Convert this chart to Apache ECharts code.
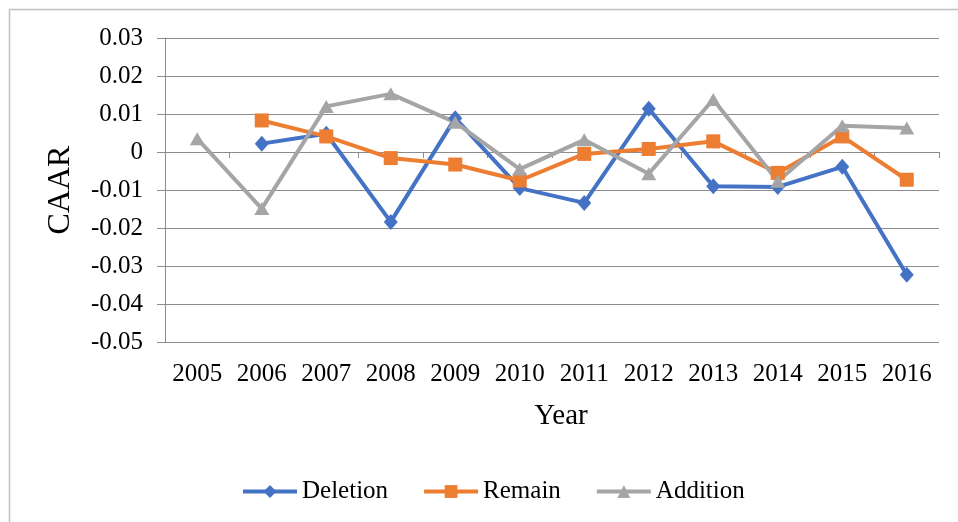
<!DOCTYPE html>
<html>
<head>
<meta charset="utf-8">
<script src="https://cdn.jsdelivr.net/npm/echarts@6/dist/echarts.min.js"></script>
<style>
  html, body { margin: 0; padding: 0; background: #ffffff; }
  #chart { width: 958px; height: 522px; }
</style>
</head>
<body>
<div id="chart"></div>
<script>
// Cumulative average abnormal return by year, for the three index groups
const years = ['2005', '2006', '2007', '2008', '2009', '2010', '2011', '2012', '2013', '2014', '2015', '2016'];
const deletion = [null, 0.0022, 0.0048, -0.0184, 0.0089, -0.0095, -0.0134, 0.0114, -0.0090, -0.0092, -0.0039, -0.0323];
const remain   = [null, 0.0083, 0.0041, -0.0016, -0.0033, -0.0075, -0.0005, 0.0008, 0.0028, -0.0055, 0.0041, -0.0073];
const addition = [0.0035, -0.0149, 0.0120, 0.0153, 0.0078, -0.0045, 0.0032, -0.0057, 0.0138, -0.0077, 0.0069, 0.0063];

const FONT = '"Liberation Serif", "Times New Roman", serif';
const AXIS_GREY = '#8c8c8c';

function lineSeries(name, data, color, symbol, size) {
  return {
    name: name,
    type: 'line',
    data: data,
    xAxisIndex: 0,
    symbol: symbol,
    symbolSize: size,
    connectNulls: false,
    lineStyle: { color: color, width: 4 },
    itemStyle: { color: color },
    emphasis: { disabled: true }
  };
}

const chart = echarts.init(document.getElementById('chart'), null, { renderer: 'canvas' });
chart.setOption({
  animation: false,
  backgroundColor: '#ffffff',
  textStyle: { fontFamily: FONT, color: '#000' },
  graphic: [{
    type: 'rect',
    shape: { x: 9.5, y: 9.5, width: 1200, height: 800 },
    style: { fill: 'none', stroke: '#bfbfbf', lineWidth: 1.5 },
    silent: true
  }],
  grid: { left: 165, right: 19, top: 38, bottom: 180 },
  legend: {
    left: 236,
    top: 474,
    itemWidth: 54,
    itemHeight: 16,
    itemGap: 34,
    lineStyle: { width: 4 },
    textStyle: { fontFamily: FONT, fontSize: 25, color: '#000' },
    data: ['Deletion', 'Remain', 'Addition']
  },
  xAxis: [{
    // axis line through zero, with ticks between years
    type: 'category',
    data: years,
    boundaryGap: true,
    axisLine: { onZero: true, lineStyle: { color: AXIS_GREY, width: 1 } },
    axisTick: { show: true, length: 6, interval: 0, alignWithLabel: false, lineStyle: { color: AXIS_GREY } },
    axisLabel: { show: false },
    splitLine: { show: false }
  }, {
    // year labels along the bottom of the plot
    type: 'category',
    data: years,
    position: 'bottom',
    boundaryGap: true,
    axisLine: { show: false, onZero: false },
    axisTick: { show: false },
    axisLabel: { interval: 0, margin: 20, fontFamily: FONT, fontSize: 25, color: '#000' },
    name: 'Year',
    nameLocation: 'middle',
    nameGap: 60,
    nameTextStyle: { fontFamily: FONT, fontSize: 29, color: '#000', padding: [0, 0, 0, 18] }
  }],
  yAxis: {
    type: 'value',
    min: -0.05,
    max: 0.03,
    interval: 0.01,
    axisLine: { show: true, lineStyle: { color: AXIS_GREY, width: 1 } },
    axisTick: { show: true, length: 8, lineStyle: { color: AXIS_GREY } },
    axisLabel: {
      margin: 22,
      fontFamily: FONT,
      fontSize: 25,
      color: '#000',
      formatter: v => String(+v.toFixed(2))
    },
    splitLine: { show: true, lineStyle: { color: AXIS_GREY, width: 1 } },
    name: 'CAAR',
    nameLocation: 'middle',
    nameRotate: 90,
    nameGap: 88,
    nameTextStyle: { fontFamily: FONT, fontSize: 32, color: '#000' }
  },
  series: [
    lineSeries('Deletion', deletion, '#4472C4', 'diamond', [14, 16]),
    lineSeries('Remain', remain, '#ED7D31', 'rect', 14),
    lineSeries('Addition', addition, '#A5A5A5', 'triangle', [15, 13])
  ]
});
</script>
</body>
</html>
